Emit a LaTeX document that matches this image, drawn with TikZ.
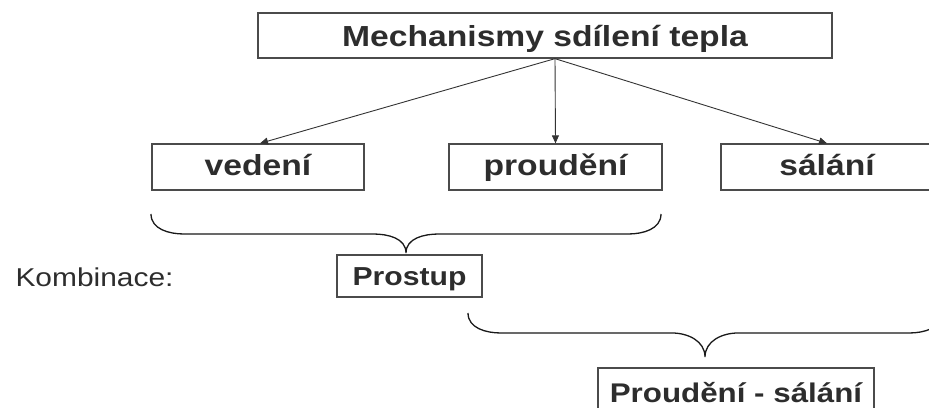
\documentclass[tikz,border=0pt]{standalone}
\usepackage{fontspec}
\setmainfont{Liberation Sans}[FakeStretch=1.16]
\usetikzlibrary{arrows.meta}
\definecolor{textgray}{RGB}{45,45,45}
\definecolor{linegray}{RGB}{75,75,75}
\tikzstyle{box} = [rectangle, draw=linegray, line width=1.3pt, inner sep=0, text centered, text=textgray, text height=23.5pt, text depth=5.5pt]
\tikzstyle{arrow} = [line width=0.9pt, draw=black!80, -{Triangle[length=8pt,width=7pt]}]
\tikzstyle{brace} = [line width=1.3pt, draw=black!90]
\newcommand{\labelfont}[1]{\fontsize{#1}{#1}\selectfont}

\begin{document}
\begin{tikzpicture}[x=1pt,y=1pt]
\useasboundingbox (0,0) rectangle (929,407);
\clip (0,0) rectangle (929,407);

% the three mechanisms
\node[box, font=\bfseries\labelfont{29}, minimum width=574pt, minimum height=45pt, text height=26pt, text depth=3pt] (mech) at (545,371.5) {Mechanismy sdílení tepla};
\node[box, font=\bfseries\labelfont{29}, minimum width=212pt, minimum height=46pt] (vedeni) at (258,240) {vedení};
\node[box, font=\bfseries\labelfont{29}, minimum width=213pt, minimum height=46pt] (proudeni) at (555.5,240) {proudění};
\node[box, font=\bfseries\labelfont{29}, minimum width=212pt, minimum height=46pt] (salani) at (827,240) {sálání};

\coordinate (src) at ([xshift=10pt]mech.south);
\draw[arrow] (src) -- ([xshift=2pt]vedeni.north);
\draw[arrow] (src) -- (proudeni.north);
\draw[arrow] (src) -- (salani.north);

% combinations
\node[anchor=base west, text=textgray, font=\labelfont{25.8}] (komb) at (12,120) {Kombinace:};
\node[box, font=\bfseries\labelfont{26}, minimum width=145pt, minimum height=42pt, text height=24.5pt, text depth=4.5pt] (prostup) at (409.5,131) {Prostup};
\node[box, font=\bfseries\labelfont{27}, minimum width=276pt, minimum height=46pt, text height=25.5pt, text depth=3.5pt] (prosal) at (736,16) {Proudění - sálání};

\draw[brace] (151,193) to[out=270,in=180] (184,173) -- (373,173) to[out=0,in=90] (406,154)
  to[out=90,in=180] (439,173) -- (628,173) to[out=0,in=270] (661,193);
\draw[brace] (468,94) to[out=270,in=180] (501,74) -- (672,74) to[out=0,in=90] (705,50)
  to[out=90,in=180] (738,74) -- (909,74) to[out=0,in=270] (942,94);
\end{tikzpicture}
\end{document}
